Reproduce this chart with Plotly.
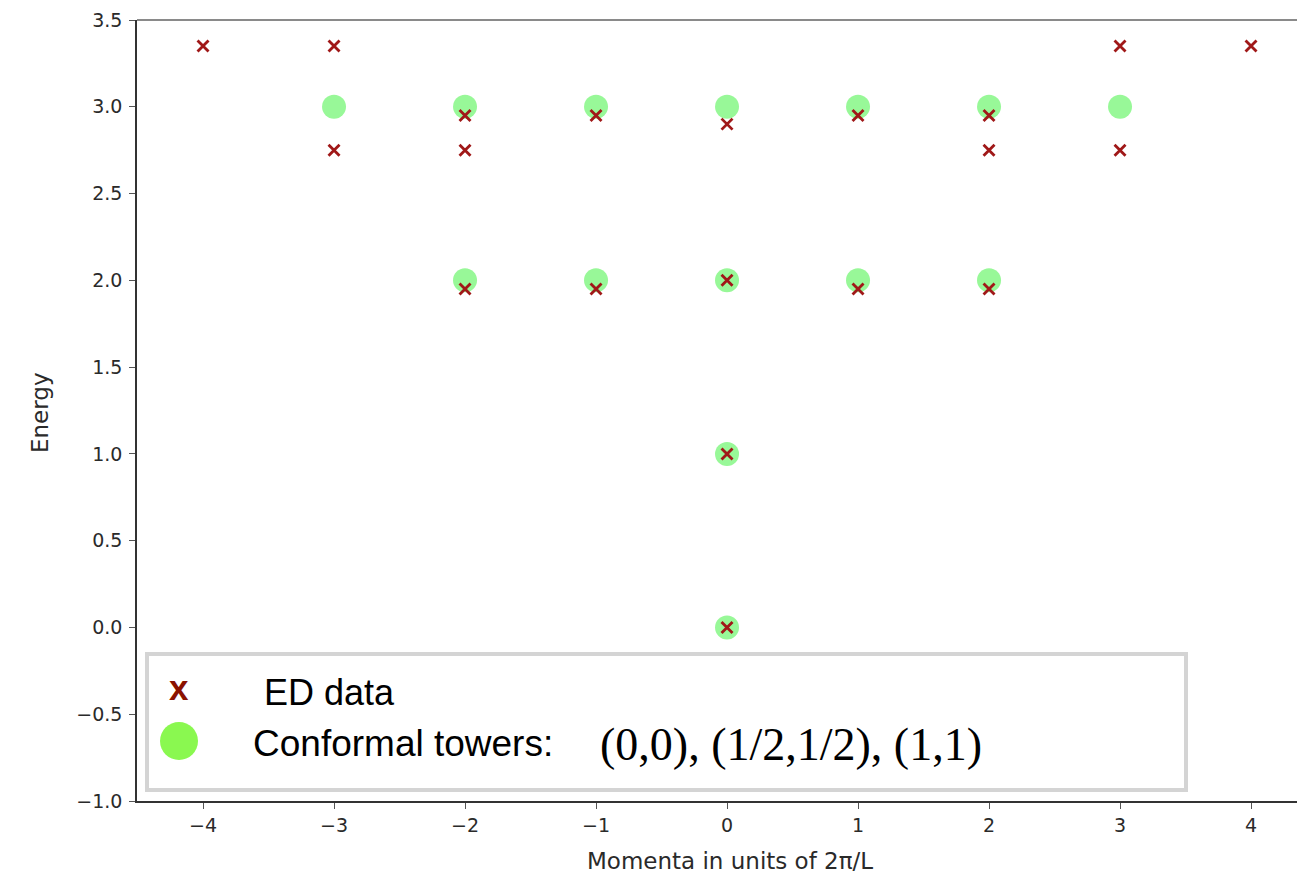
import plotly.graph_objects as go

# ED spectrum: momentum sector and energy of each level
ed_momenta = [-4, -3, -3, -2, -2, -2, -1, -1, 0, 0, 0, 0, 1, 1, 2, 2, 2, 3, 3, 4]
ed_energy = [3.35, 3.35, 2.75, 2.95, 2.75, 1.95, 2.95, 1.95, 2.9, 2.0, 1.0, 0.0,
             2.95, 1.95, 2.95, 2.75, 1.95, 3.35, 2.75, 3.35]

# Conformal tower predictions
cft_momenta = [-3, -2, -2, -1, -1, 0, 0, 0, 0, 1, 1, 2, 2, 3]
cft_energy = [3.0, 3.0, 2.0, 3.0, 2.0, 3.0, 2.0, 1.0, 0.0, 3.0, 2.0, 3.0, 2.0, 3.0]

x_ticks = [-4, -3, -2, -1, 0, 1, 2, 3, 4]
x_tick_text = ["\u22124", "\u22123", "\u22122", "\u22121", "0", "1", "2", "3", "4"]
y_ticks = [-1.0, -0.5, 0.0, 0.5, 1.0, 1.5, 2.0, 2.5, 3.0, 3.5]
y_tick_text = [f"{v:.1f}".replace("-", "\u2212") for v in y_ticks]

W, H = 1297, 880
L, R, T, B = 137, 0, 20, 79

fig = go.Figure()
fig.add_trace(go.Scatter(
    x=cft_momenta, y=cft_energy, mode="markers",
    marker=dict(symbol="circle", size=24, color="#98f898", line=dict(width=0)),
    showlegend=False, hoverinfo="x+y"))
fig.add_trace(go.Scatter(
    x=ed_momenta, y=ed_energy, mode="markers",
    marker=dict(symbol="x-thin", size=11, color="#a01818",
                line=dict(width=2.8, color="#a01818")),
    showlegend=False, hoverinfo="x+y"))

tick_font = dict(family="DejaVu Sans", size=19, color="#2a2a2a")
title_font = dict(family="DejaVu Sans", size=23, color="#2a2a2a")

fig.update_xaxes(range=[-4.504, 4.351], tickvals=x_ticks, ticktext=x_tick_text,
                 showgrid=False, zeroline=False, showline=True, linecolor="#333333",
                 linewidth=1.5, ticks="outside", ticklen=6, tickcolor="#555555",
                 tickfont=tick_font)
fig.update_yaxes(range=[-1.0, 3.5], tickvals=y_ticks, ticktext=y_tick_text,
                 showgrid=False, zeroline=False, showline=True, linecolor="#333333",
                 linewidth=1.5, ticks="outside", ticklen=6, tickcolor="#555555",
                 tickfont=tick_font, ticklabelstandoff=3)

pw, ph = W - L - R, H - T - B


def px(x):
    return (x - L) / pw


def py(y):
    return 1 - (y - T) / ph


# axis titles
fig.add_annotation(xref="paper", yref="paper", x=px(730), y=py(861),
                   text="Momenta in units of 2\u03c0/L", showarrow=False,
                   xanchor="center", yanchor="middle", font=title_font)
fig.add_annotation(xref="paper", yref="paper", x=px(40), y=py(413),
                   text="Energy", showarrow=False, textangle=-90,
                   xanchor="center", yanchor="middle", font=title_font)

# top frame line
fig.add_shape(type="line", xref="paper", yref="paper", x0=0, x1=1, y0=1, y1=1,
              line=dict(color="#8a8a8a", width=2))

# legend box
fig.add_shape(type="rect", xref="paper", yref="paper",
              x0=px(147), x1=px(1186), y0=py(790), y1=py(654),
              fillcolor="white", line=dict(color="#d4d4d4", width=4), layer="above")
fig.add_shape(type="circle", xref="paper", yref="paper",
              xsizemode="pixel", ysizemode="pixel",
              xanchor=px(179), yanchor=py(741), x0=-19, x1=19, y0=-19, y1=19,
              fillcolor="#8af850", line=dict(width=0), layer="above")

legend_font = dict(family="Liberation Sans", size=37, color="black")
fig.add_annotation(xref="paper", yref="paper", x=px(179), y=py(687),
                   text="<b>x</b>", showarrow=False, xanchor="center", yanchor="middle",
                   font=dict(family="Liberation Sans", size=35, color="#8b1200"))
fig.add_annotation(xref="paper", yref="paper", x=px(262), y=py(692),
                   text="ED data", showarrow=False, xanchor="left", yanchor="middle",
                   font=dict(family="Liberation Sans", size=36, color="black"))
fig.add_annotation(xref="paper", yref="paper", x=px(251), y=py(743),
                   text="Conformal towers:", showarrow=False, xanchor="left",
                   yanchor="middle", font=legend_font)
fig.add_annotation(xref="paper", yref="paper", x=px(598), y=py(744),
                   text="(0,0), (1/2,1/2), (1,1)", showarrow=False, xanchor="left",
                   yanchor="middle",
                   font=dict(family="Liberation Serif", size=46, color="black"))

fig.update_layout(width=W, height=H, margin=dict(l=L, r=R, t=T, b=B),
                  plot_bgcolor="white", paper_bgcolor="white")

fig.write_html("out.html")
